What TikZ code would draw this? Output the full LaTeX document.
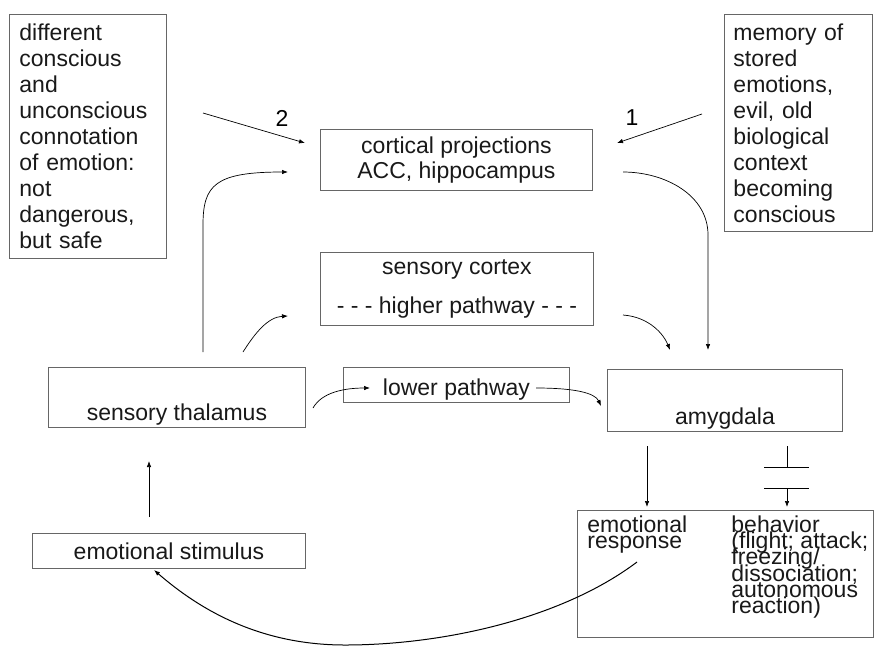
\documentclass[tikz,border=0pt]{standalone}
\usepackage{fontspec}
\setmainfont{Liberation Sans}
\usetikzlibrary{arrows.meta, positioning, calc}

\tikzset{
  box/.style={draw=black!60, line width=0.9pt, inner sep=0pt, anchor=north west, text=black!90},
  arr/.style={-{Latex[length=6pt,width=4.5pt]}, line width=0.7pt},
  line/.style={line width=0.7pt},
}
\newcommand{\tightlines}{\fontsize{23}{16.2}\selectfont\lineskiplimit=-100pt\relax}

\begin{document}
\begin{tikzpicture}[x=1pt, y=-1pt, font=\fontsize{23}{26}\selectfont]
    \useasboundingbox (0,0) rectangle (874,646);

    % boxes at the top
    \node[box, minimum height=244, text width=137, inner xsep=10pt, align=left] (connot) at (9,14)
        {different\\conscious\\and\\unconscious\\connotation\\of emotion:\\not\\dangerous,\\but safe};
    \node[box, minimum height=217, text width=130, inner xsep=9pt, align=left] (memory) at (724,14)
        {memory of\\stored\\emotions,\\evil, old\\biological\\context\\becoming\\conscious};
    \node[box, minimum width=272, minimum height=61, align=center] (cortical) at (320,129) {cortical projections\\[-1pt]ACC, hippocampus};
    \node[box, minimum width=273, minimum height=73, align=center] (sensctx) at (320,252) {sensory cortex\\[13pt]- - - higher pathway - - -};

    % middle row
    \node[box, minimum width=257, text height=53pt, text depth=7pt] (thalamus) at (48,367) {sensory thalamus};
    \node[box, minimum width=226, text height=28pt, text depth=7pt] (lowpath) at (343,367) {lower pathway};
    \node[box, minimum width=235, text height=55pt, text depth=7pt] (amygdala) at (607,369) {amygdala};

    % bottom row
    \node[box, minimum width=273, text height=26pt, text depth=9pt] (stimulus) at (32,533) {emotional stimulus};
    \node[box, minimum width=296, text height=22pt, text depth=105pt, inner xsep=10pt] (response) at (577,510)
        {\parbox[t]{144pt}{\tightlines emotional\\response}%
         \parbox[t]{132pt}{\tightlines behavior\\\mbox{(flight; attack;}\\freezing/\\dissociation;\\autonomous\\reaction)}};

    % labels of the two inputs
    \node (num2) at (282,118) {2};
    \node (num1) at (632,118) {1};

    % free ends of the connectors
    \coordinate (p2a) at (203,113);  \coordinate (p2b) at (305,143);
    \coordinate (p1a) at (702,114);  \coordinate (p1b) at (617,143);
    \coordinate (th1) at (203,352);  \coordinate (th1b) at (203,225);  \coordinate (co1) at (288,172);
    \coordinate (co2) at (623,172);  \coordinate (am1b) at (708,235);  \coordinate (am1) at (708,350);
    \coordinate (th2) at (243,352);  \coordinate (sc1) at (288,316);
    \coordinate (sc2) at (623,315);  \coordinate (am2) at (670,350);
    \coordinate (th3) at (313,408);  \coordinate (lp1) at (370,388);
    \coordinate (lp2) at (536,388);  \coordinate (am3) at (601,406);
    \coordinate (am4) at (647,446);  \coordinate (re1) at (647,507);
    \coordinate (am5) at (787,446);  \coordinate (bar1) at (787,467);
    \coordinate (bar2) at (787,488); \coordinate (re2) at (787,507);
    \coordinate (st1) at (149,517);  \coordinate (th4) at (149,461);
    \coordinate (re3) at (637,562);  \coordinate (low) at (345,645);  \coordinate (st2) at (154,570);

    % inputs 1 and 2
    \draw[arr] (p2a) -- (p2b);
    \draw[arr] (p1a) -- (p1b);

    % thalamus -> cortex -> amygdala
    \draw[arr] (th1) -- (th1b) .. controls (203,185) and (215,172) .. (co1);
    \draw[arr] (co2) .. controls (665,172) and (708,195) .. (am1b) -- (am1);
    \draw[arr] (th2) .. controls (255,333) and (268,317) .. (sc1);
    \draw[arr] (sc2) .. controls (650,317) and (664,335) .. (am2);

    % lower pathway
    \draw[arr] (th3) .. controls (322,392) and (345,388) .. (lp1);
    \draw[arr] (lp2) .. controls (575,388) and (595,393) .. (am3);

    % amygdala -> response / behavior
    \draw[arr] (am4) -- (re1);
    \draw[line] (am5) -- (bar1);
    \draw[line] ([xshift=-23pt]bar1) -- ([xshift=22pt]bar1);
    \draw[line] ([xshift=-23pt]bar2) -- ([xshift=22pt]bar2);
    \draw[arr] (bar2) -- (re2);

    % loop back
    \draw[arr] (st1) -- (th4);
    \draw[arr, line width=1pt] (re3) .. controls (560,620) and (440,645) .. (low)
        .. controls (260,645) and (200,610) .. (st2);
\end{tikzpicture}
\end{document}
